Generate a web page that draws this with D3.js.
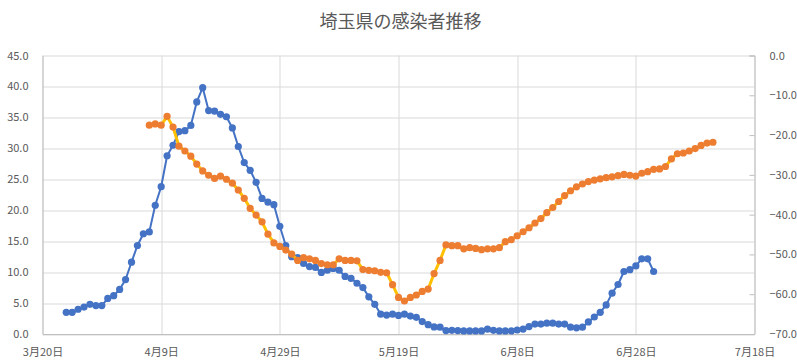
<!DOCTYPE html>
<html>
<head>
<meta charset="utf-8">
<script src="https://cdn.jsdelivr.net/npm/d3@7"></script>
<style>
    body { margin: 0; background: #fff; }
    text { font-family: "Noto Sans CJK JP", "Noto Sans", sans-serif; fill: #595959; }
</style>
</head>
<body>
<svg></svg>
<script>
var viewWidth = 797;
var viewHeight = 363;

// daily values, blue series starts 3/24, orange series starts 4/7
var blueStart = "2020-03-24";
var blueValues = [3.5, 3.5, 4.0, 4.35, 4.8, 4.6, 4.6, 5.75, 6.2, 7.2, 8.8, 11.6, 14.3, 16.2, 16.5, 20.8,
    23.8, 28.8, 30.5, 32.7, 32.85, 33.7, 37.5, 39.8, 36.1, 36.0, 35.5, 35.1, 33.3, 30.3, 27.7, 26.45,
    24.5, 21.9, 21.3, 20.9, 17.4, 14.3, 12.5, 12.35, 11.4, 10.9, 10.75, 9.95, 10.3, 10.6, 10.3, 9.3,
    9.0, 8.2, 7.5, 6.0, 4.8, 3.2, 3.05, 3.2, 3.0, 3.2, 2.9, 2.7, 2.0, 1.5, 1.15, 1.1, 0.55, 0.6,
    0.55, 0.5, 0.5, 0.5, 0.5, 0.8, 0.6, 0.5, 0.5, 0.5, 0.65, 0.8, 1.2, 1.6, 1.6, 1.75, 1.75, 1.6,
    1.6, 1.1, 1.0, 1.1, 1.95, 2.75, 3.5, 4.7, 6.6, 8.0, 10.1, 10.4, 11.0, 12.15, 12.15, 10.1];

var orangeStart = "2020-04-07";
var orangeValues = [-17.5, -17.2, -17.5, -15.3, -18.0, -22.8, -24.0, -25.3, -27.3, -29.0, -30.1, -30.9,
    -30.3, -31.1, -32.1, -33.8, -35.9, -38.4, -40.1, -41.8, -44.9, -47.1, -48.0, -48.9, -49.9, -51.5,
    -50.8, -51.1, -51.5, -52.3, -52.6, -52.6, -51.1, -51.5, -51.5, -51.6, -53.8, -54.0, -54.1, -54.5,
    -54.6, -57.6, -60.8, -61.7, -60.8, -60.2, -59.3, -58.7, -54.8, -51.5, -47.6, -47.8, -47.8, -48.6,
    -48.3, -48.5, -48.8, -48.6, -48.6, -48.3, -46.8, -46.3, -45.3, -44.3, -43.3, -42.1, -41.0, -39.5,
    -38.2, -36.7, -35.2, -34.0, -33.0, -32.3, -31.7, -31.3, -31.0, -30.7, -30.5, -30.2, -29.9, -30.1,
    -30.3, -29.6, -29.2, -28.6, -28.5, -27.9, -26.0, -24.7, -24.5, -24.0, -23.4, -22.6, -22.0, -21.8];

var xTickDates = ["2020-03-20", "2020-04-09", "2020-04-29", "2020-05-19", "2020-06-08", "2020-06-28", "2020-07-18"];
var leftTicks = [0, 5, 10, 15, 20, 25, 30, 35, 40, 45];
var rightTicks = [0, -10, -20, -30, -40, -50, -60, -70];
var title = "埼玉県の感染者推移";

var parseDate = d3.timeParse("%Y-%m-%d");
var margin = {top: 55.5, right: 42.5, bottom: 29, left: 42.5};
var w = viewWidth - margin.left - margin.right;
var h = viewHeight - margin.top - margin.bottom;

var root = d3.select("svg")
    .attr("width", viewWidth)
    .attr("height", viewHeight);

root.append("text")
    .attr("x", viewWidth / 2 + 2)
    .attr("y", 28)
    .attr("text-anchor", "middle")
    .style("font-size", "18px")
    .text(title);

var svg = root.append("g")
    .attr("transform", "translate(" + margin.left + "," + margin.top + ")");

function toSeries(start, values) {
    var s = parseDate(start);
    return values.map(function (v, i) {
        return {date: d3.timeDay.offset(s, i), value: v};
    });
}

var blue = toSeries(blueStart, blueValues);
var orange = toSeries(orangeStart, orangeValues);
var xTicks = xTickDates.map(parseDate);

var xScale = d3.scaleTime()
    .domain([xTicks[0], xTicks[xTicks.length - 1]])
    .range([0, w]);

var yLeft = d3.scaleLinear().domain([0, 45]).range([h, 0]);
var yRight = d3.scaleLinear().domain([-70, 0]).range([h, 0]);

// grid
svg.append("g")
    .selectAll("line")
    .data(leftTicks)
    .enter()
    .append("line")
    .attr("x1", 0)
    .attr("x2", w)
    .attr("y1", function (d) { return Math.round(yLeft(d)) + 0.5; })
    .attr("y2", function (d) { return Math.round(yLeft(d)) + 0.5; })
    .attr("stroke", "#d9d9d9");

svg.append("g")
    .selectAll("line")
    .data(xTicks)
    .enter()
    .append("line")
    .attr("x1", function (d) { return Math.round(xScale(d)) + 0.5; })
    .attr("x2", function (d) { return Math.round(xScale(d)) + 0.5; })
    .attr("y1", 0)
    .attr("y2", h)
    .attr("stroke", "#d9d9d9");

// axes
var xAxis = d3.axisBottom(xScale)
    .tickValues(xTicks)
    .tickSize(0)
    .tickPadding(14)
    .tickFormat(d3.timeFormat("%-m月%-d日"));

var leftAxis = d3.axisLeft(yLeft)
    .tickValues(leftTicks)
    .tickSize(0)
    .tickPadding(14)
    .tickFormat(d3.format(".1f"));

var rightAxis = d3.axisRight(yRight)
    .tickValues(rightTicks)
    .tickSize(-5)
    .tickPadding(15)
    .tickFormat(d3.format(".1f"));

function styleAxis(g) {
    g.selectAll("path").attr("stroke", "#bfbfbf");
    g.selectAll("line").attr("stroke", "#bfbfbf");
    g.selectAll("text")
        .style("font-size", "11px")
        .attr("fill", "#595959")
        .style("font-family", "\"Noto Sans CJK JP\", sans-serif");
}

svg.append("g")
    .attr("transform", "translate(0," + h + ")")
    .call(xAxis)
    .call(styleAxis);

svg.append("g")
    .call(leftAxis)
    .call(styleAxis);

svg.append("g")
    .attr("transform", "translate(" + w + ",0)")
    .call(rightAxis)
    .call(styleAxis);

function drawSeries(data, yScale, lineColor, lineWidth, dotColor) {
    var line = d3.line()
        .x(function (d) { return xScale(d.date); })
        .y(function (d) { return yScale(d.value); });

    svg.append("path")
        .datum(data)
        .attr("d", line)
        .attr("fill", "none")
        .attr("stroke", lineColor)
        .attr("stroke-width", lineWidth)
        .attr("stroke-linejoin", "round");

    svg.append("g")
        .selectAll("circle")
        .data(data)
        .enter()
        .append("circle")
        .attr("cx", function (d) { return xScale(d.date); })
        .attr("cy", function (d) { return yScale(d.value); })
        .attr("r", 3.6)
        .attr("fill", dotColor);
}

drawSeries(blue, yLeft, "#4472c4", 2, "#4472c4");
drawSeries(orange, yRight, "#ffc000", 3, "#ed7d31");
</script>
</body>
</html>
